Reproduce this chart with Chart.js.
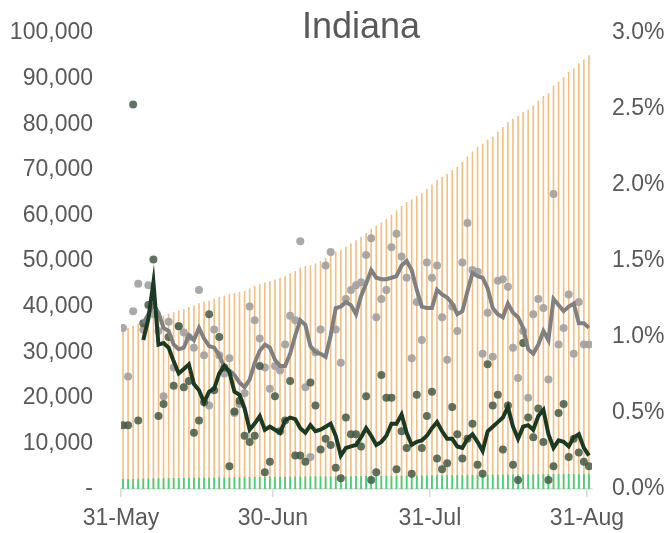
<!DOCTYPE html>
<html>
  <head>
    <title>Indiana</title>
    <script src="https://cdn.jsdelivr.net/npm/chart.js"></script>
    <style>body { margin: 0; background: #fff; }</style>
  </head>
  <body>
    <canvas id="indiana-chart" width="668" height="533"></canvas>

    <script>
      // Day 0 = 31-May, day 92 = 31-Aug
      const tickDays = [0, 30, 61, 92];
      const tickLabels = ['31-May', '30-Jun', '31-Jul', '31-Aug'];

      // Cumulative cases (orange bars, left axis)
      const cumulativeCases = [
        35000, 35260, 35670, 36150, 36520, 37000, 37410, 37780, 38000, 38400,
        38690, 39080, 39460, 39830, 40180, 40670, 41000, 41210, 41640, 42010,
        42330, 42690, 42900, 43140, 43410, 43930, 44420, 44860, 45220, 45520,
        45890, 46250, 46690, 47220, 47740, 48520, 48850, 48950, 49390, 49910,
        50640, 51430, 51970, 52400, 53060, 53760, 54480, 55220, 56070, 57000,
        57640, 58360, 59120, 60060, 61070, 62000, 62860, 63400, 64180, 64810,
        65780, 66690, 67670, 68430, 69010, 69840, 70570, 71620, 72870, 73920,
        74980, 75650, 76530, 77200, 78260, 79340, 80400, 81150, 81740, 82590,
        83090, 84050, 85100, 86110, 86730, 88410, 89250, 90200, 91350, 92160,
        93290, 94180, 95070
      ];

      // Cumulative deaths (green bars, left axis)
      const cumulativeDeaths = [
        2100, 2109, 2162, 2172, 2196, 2223, 2257, 2268, 2281, 2304,
        2320, 2345, 2361, 2378, 2387, 2398, 2412, 2440, 2456, 2481,
        2501, 2505, 2518, 2533, 2542, 2550, 2559, 2580, 2583, 2588,
        2604, 2614, 2626, 2645, 2651, 2657, 2662, 2681, 2696, 2703,
        2712, 2720, 2724, 2726, 2739, 2749, 2759, 2767, 2784, 2786,
        2789, 2810, 2827, 2844, 2848, 2859, 2867, 2870, 2888, 2896,
        2910, 2929, 2935, 2939, 2944, 2960, 2971, 2977, 2987, 3000,
        3005, 3008, 3033, 3050, 3069, 3077, 3094, 3099, 3101, 3131,
        3146, 3157, 3174, 3184, 3186, 3191, 3207, 3225, 3232, 3243,
        3251, 3257, 3262
      ];

      // Daily case growth % (grey dots, right axis)
      const caseGrowth = [
        1.06, 0.74, 1.17, 1.35, 1.05, 1.34, 1.15, 1.04, 0.61, 1.10,
        0.80, 1.07, 1.03, 1.00, 0.93, 1.31, 0.88, 0.55, 1.05, 0.88,
        0.76, 0.86, 0.50, 0.56, 0.63, 1.20, 1.11, 0.99, 0.80, 0.66,
        0.81, 0.78, 0.95, 1.14, 1.11, 1.63, 0.67, 0.21, 0.90, 1.05,
        1.47, 1.56, 1.05, 0.83, 1.25, 1.31, 1.34, 1.36, 1.54, 1.65,
        1.13, 1.25, 1.31, 1.59, 1.68, 1.53, 1.39, 0.86, 1.23, 0.98,
        1.49, 1.39, 1.47, 1.13, 0.85, 1.20, 1.04, 1.49, 1.75, 1.44,
        1.43, 0.89, 1.16, 0.87, 1.37, 1.38, 1.33, 0.93, 0.73, 1.04,
        0.60, 1.15, 1.25, 1.19, 0.72, 1.94, 0.95, 1.06, 1.28, 0.89,
        1.23, 0.95, 0.95
      ];

      // Averaged case growth % (grey line)
      const caseGrowthAvg = [
        null, null, null, null, 1.09, 1.15, 1.21, 1.16, 1.06, 1.04,
        0.95, 0.92, 0.93, 1.01, 0.98, 1.06, 0.99, 0.94, 0.93, 0.88,
        0.80, 0.78, 0.75, 0.70, 0.67, 0.72, 0.83, 0.91, 0.95, 0.93,
        0.85, 0.81, 0.81, 0.89, 1.01, 1.11, 1.08, 0.94, 0.90, 0.89,
        0.87, 1.01, 1.19, 1.20, 1.23, 1.21, 1.15, 1.27, 1.35, 1.44,
        1.39, 1.38, 1.38, 1.39, 1.40, 1.47, 1.50, 1.44, 1.31, 1.20,
        1.19, 1.19, 1.31, 1.28, 1.26, 1.22, 1.15, 1.17, 1.30, 1.42,
        1.40, 1.39, 1.32, 1.19, 1.15, 1.13, 1.22, 1.16, 1.13, 1.06,
        0.92, 0.89, 0.95, 1.04, 0.98, 1.25, 1.21, 1.17, 1.20, 1.22,
        1.09, 1.09, 1.06
      ];

      // Daily death growth % (dark green dots, right axis)
      const deathGrowth = [
        0.42, 0.42, 2.53, 0.45, 1.09, 1.21, 1.51, 0.48, 0.56, 1.00,
        0.68, 1.07, 0.67, 0.71, 0.37, 0.45, 0.57, 1.15, 0.65, 1.00,
        0.80, 0.15, 0.51, 0.58, 0.35, 0.31, 0.35, 0.81, 0.11, 0.18,
        0.61, 0.38, 0.45, 0.71, 0.22, 0.22, 0.18, 0.70, 0.55, 0.26,
        0.33, 0.29, 0.14, 0.07, 0.47, 0.36, 0.36, 0.28, 0.61, 0.06,
        0.11, 0.75, 0.60, 0.60, 0.13, 0.38, 0.27, 0.10, 0.62, 0.27,
        0.48, 0.64, 0.20, 0.13, 0.17, 0.54, 0.36, 0.20, 0.33, 0.43,
        0.16, 0.10, 0.82, 0.55, 0.62, 0.26, 0.55, 0.16, 0.06, 0.96,
        0.47, 0.34, 0.53, 0.31, 0.06, 0.15, 0.50, 0.56, 0.21, 0.33,
        0.24, 0.18, 0.15
      ];

      // Averaged death growth % (dark green line)
      const deathGrowthAvg = [
        null, null, null, null, 0.98, 1.12, 1.36, 0.95, 0.96, 0.93,
        0.84, 0.76, 0.79, 0.82, 0.69, 0.65, 0.57, 0.64, 0.66, 0.76,
        0.81, 0.77, 0.64, 0.62, 0.53, 0.39, 0.43, 0.48, 0.39, 0.41,
        0.39, 0.37, 0.45, 0.47, 0.46, 0.40, 0.37, 0.42, 0.38, 0.39,
        0.41, 0.43, 0.35, 0.22, 0.27, 0.28, 0.29, 0.34, 0.40, 0.35,
        0.29, 0.31, 0.35, 0.43, 0.43, 0.49, 0.37, 0.29, 0.31, 0.32,
        0.35, 0.40, 0.44, 0.38, 0.33, 0.33, 0.28, 0.27, 0.33, 0.36,
        0.31, 0.25, 0.38, 0.41, 0.44, 0.47, 0.54, 0.41, 0.33, 0.41,
        0.42, 0.39, 0.48, 0.52, 0.36, 0.27, 0.32, 0.31, 0.28, 0.34,
        0.36, 0.27, 0.22
      ];

      // each value sits a little right of its date tick, like the original
      const toPoints = (arr) => arr.map((v, i) => ({ x: i + 0.4, y: v }));

      const textColor = '#595959';
      const tickFont = { family: '"Liberation Sans", Arial, sans-serif', size: 23 };
      Chart.defaults.font.family = '"Liberation Sans", Arial, sans-serif';

      // Title sits inside the plot area, so draw it by hand
      const titlePlugin = {
        id: 'chartTitle',
        afterDraw(chart) {
          const ctx = chart.ctx;
          ctx.save();
          ctx.font = '36px "Liberation Sans", Arial, sans-serif';
          ctx.fillStyle = textColor;
          ctx.textAlign = 'center';
          ctx.textBaseline = 'alphabetic';
          ctx.fillText('Indiana', 361, 38);
          ctx.restore();
        }
      };

      // fixed axis sizes so the plot area lands where the original has it
      const fixWidth = (w) => (scale) => {
        scale.width = w;
        scale.paddingTop = 0;
        scale.paddingBottom = 0;
      };

      new Chart(document.getElementById('indiana-chart'), {
        type: 'bar',
        data: {
          datasets: [
            {
              type: 'line',
              data: toPoints(deathGrowthAvg),
              yAxisID: 'y1',
              borderColor: '#1B3A24',
              borderWidth: 4,
              pointRadius: 0,
              tension: 0,
              order: 1
            },
            {
              type: 'line',
              data: toPoints(caseGrowthAvg),
              yAxisID: 'y1',
              borderColor: '#808080',
              borderWidth: 4,
              pointRadius: 0,
              tension: 0,
              order: 2
            },
            {
              type: 'scatter',
              data: toPoints(deathGrowth),
              yAxisID: 'y1',
              backgroundColor: 'rgba(66, 90, 70, 0.85)',
              borderWidth: 0,
              pointRadius: 4,
              order: 3
            },
            {
              type: 'scatter',
              data: toPoints(caseGrowth),
              yAxisID: 'y1',
              backgroundColor: 'rgba(160, 160, 160, 0.9)',
              borderWidth: 0,
              pointRadius: 4,
              order: 4
            },
            {
              type: 'bar',
              data: toPoints(cumulativeDeaths),
              yAxisID: 'y',
              backgroundColor: '#45D07C',
              barThickness: 1.1,
              grouped: false,
              order: 5
            },
            {
              type: 'bar',
              data: toPoints(cumulativeCases),
              yAxisID: 'y',
              backgroundColor: '#F3C084',
              barThickness: 1,
              grouped: false,
              order: 6
            }
          ]
        },
        options: {
          responsive: false,
          animation: false,
          events: [],
          layout: { padding: { left: 10, right: 0, top: 33, bottom: 0 } },
          plugins: {
            legend: { display: false },
            tooltip: { enabled: false }
          },
          scales: {
            x: {
              type: 'linear',
              position: 'bottom',
              min: 0,
              max: 93,
              offset: false,
              afterBuildTicks: (axis) => {
                axis.ticks = tickDays.map((v) => ({ value: v }));
              },
              afterFit: (scale) => {
                scale.height = 44;
                scale.paddingLeft = 0;
                scale.paddingRight = 0;
              },
              ticks: {
                callback: (v) => tickLabels[tickDays.indexOf(v)],
                autoSkip: false,
                maxRotation: 0,
                padding: 8,
                color: textColor,
                font: tickFont
              },
              grid: {
                display: true,
                offset: false,
                drawOnChartArea: false,
                drawTicks: true,
                tickLength: 8,
                color: '#D9D9D9',
                lineWidth: 1.5
              },
              border: { display: true, color: '#D9D9D9', width: 1.5 }
            },
            y: {
              position: 'left',
              min: 0,
              max: 100000,
              afterFit: fixWidth(111),
              ticks: {
                stepSize: 10000,
                padding: 28,
                color: textColor,
                font: tickFont,
                callback: (v) => (v === 0 ? '-' : v.toLocaleString('en-US'))
              },
              grid: { display: false, drawTicks: false },
              border: { display: false }
            },
            y1: {
              position: 'right',
              min: 0,
              max: 3,
              afterFit: fixWidth(76),
              ticks: {
                stepSize: 0.5,
                padding: 20,
                color: textColor,
                font: tickFont,
                callback: (v) => v.toFixed(1) + '%'
              },
              grid: { display: false, drawTicks: false },
              border: { display: false }
            }
          }
        },
        plugins: [titlePlugin]
      });
    </script>
  </body>
</html>
